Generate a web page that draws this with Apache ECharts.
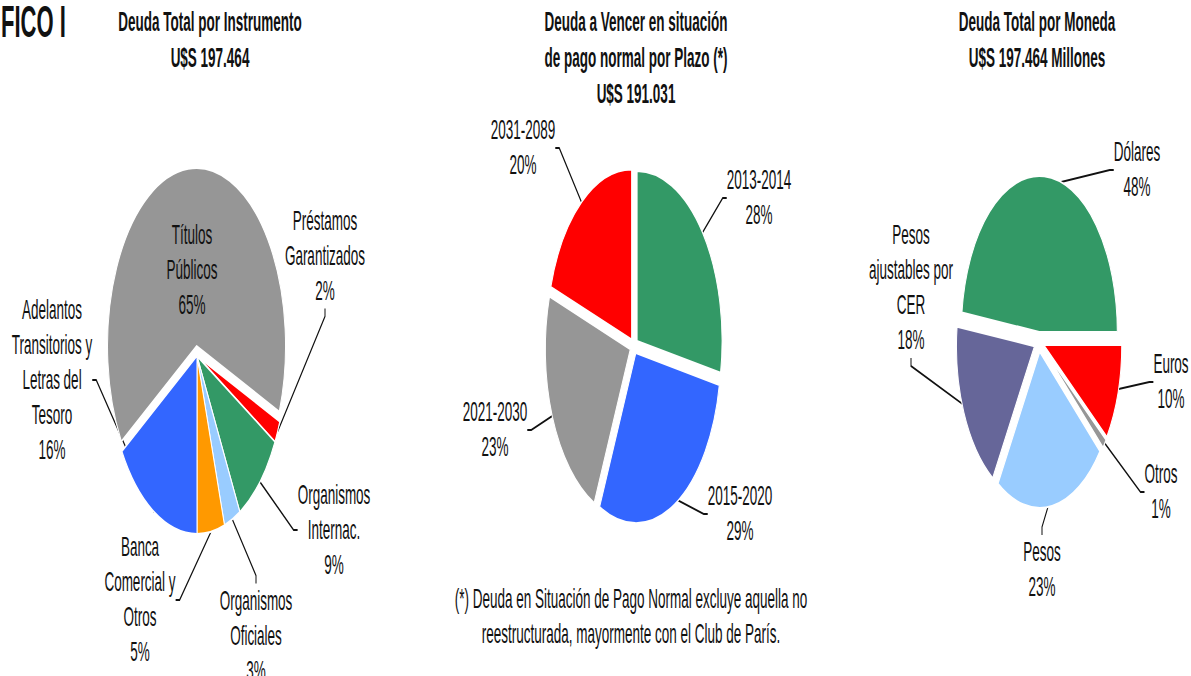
<!DOCTYPE html>
<html>
<head>
<meta charset="utf-8">
<script src="https://cdn.jsdelivr.net/npm/echarts@6/dist/echarts.min.js"></script>
<style>
html,body{margin:0;padding:0;background:#fff;width:1191px;height:676px;}
/* el grafico original esta estirado verticalmente x2 */
#main{width:1191px;height:338px;transform:scaleY(2);transform-origin:0 0;}
</style>
</head>
<body>
<div id="main"></div>
<script type="text/javascript">
	// Deuda Total por Instrumento (%)
	var instrNames = ['Títulos\nPúblicos', 'Préstamos\nGarantizados', 'Organismos\nInternac.', 'Organismos\nOficiales', 'Banca\nComercial y\nOtros', 'Adelantos\nTransitorios y\nLetras del\nTesoro'];
	var instrValues = [65, 2, 9, 3, 5, 16];

	// Deuda a Vencer por Plazo (%)
	var plazoNames = ['2013-2014', '2015-2020', '2021-2030', '2031-2089'];
	var plazoValues = [28, 29, 23, 20];

	// Deuda Total por Moneda (%)
	var monedaNames = ['Dólares', 'Euros', 'Otros', 'Pesos', 'Pesos\najustables por\nCER'];
	var monedaValues = [48, 10, 1, 23, 18];

	var instrColors = ['#969696', '#ff0000', '#339966', '#99ccff', '#ff9900', '#3366ff'];
	var plazoColors = ['#339966', '#3366ff', '#969696', '#ff0000'];
	var monedaColors = ['#339966', '#ff0000', '#969696', '#99ccff', '#666699'];

	// posicion de las etiquetas (centro), en coordenadas sin estirar
	var labelPos = [
		[[192, 135], [325, 128], [334, 265], [256, 318], [140, 300], [52, 190]],
		[[759, 99], [740, 257], [495, 215], [523, 74]],
		[[1137, 85], [1171, 191], [1161, 246], [1042, 285], [911, 144]]
	];

	var font = "'Liberation Sans', Arial, sans-serif";

	// porciones visibles (algunas separadas)
	function slices(names, values, colors, exploded, center, radius, startAngle, offset){
		return {
			type: 'pie',
			center: center,
			radius: radius,
			startAngle: startAngle,
			selectedMode: 'multiple',
			selectedOffset: offset,
			silent: true,
			emphasis: {disabled: true},
			select: {itemStyle: {borderColor: '#fff', borderWidth: 1}},
			itemStyle: {borderColor: '#fff', borderWidth: 1},
			label: {show: false},
			labelLine: {show: false},
			data: names.map(function(n, i){
				return {name: n, value: values[i], selected: exploded[i], itemStyle: {color: colors[i]}};
			})
		};
	}

	// etiquetas con sus lineas (serie transparente encima)
	function labels(idx, names, values, center, radius, startAngle, inside){
		return {
			type: 'pie',
			center: center,
			radius: radius,
			startAngle: startAngle,
			silent: true,
			avoidLabelOverlap: false,
			emphasis: {disabled: true},
			itemStyle: {color: 'rgba(0,0,0,0)'},
			label: {
				show: true,
				position: 'outside',
				formatter: '{b}\n{c}%',
				fontFamily: font,
				fontSize: 13.5,
				lineHeight: 17.5,
				color: '#111'
			},
			labelLine: {
				show: true,
				length: 8,
				length2: 4,
				lineStyle: {color: '#111', width: 1}
			},
			labelLayout: function(params){
				var p = labelPos[idx][params.dataIndex];
				return {x: p[0], y: p[1], align: 'center', verticalAlign: 'middle'};
			},
			data: names.map(function(n, i){
				var d = {name: n, value: values[i]};
				if(inside === i){ d.labelLine = {show: false}; }
				return d;
			})
		};
	}

	var titleStyle = {fontFamily: font, fontSize: 13.5, fontWeight: 'bold', lineHeight: 18, color: '#111'};

	var myChart = echarts.init(document.getElementById('main'), null, {renderer: 'svg'});
	var option = {
		backgroundColor: '#fff',
		animation: false,
		title: [
			{text: 'FICO I', left: 1, top: 0, padding: 0, textStyle: {fontFamily: font, fontSize: 22, fontWeight: 'bold', color: '#111'}},
			{text: 'Deuda Total por Instrumento\nU$S 197.464', left: 210, top: 2, padding: 0, textAlign: 'center', textStyle: titleStyle},
			{text: 'Deuda a Vencer en situación\nde pago normal por Plazo (*)\nU$S 191.031', left: 636, top: 2, padding: 0, textAlign: 'center', textStyle: titleStyle},
			{text: 'Deuda Total por Moneda\nU$S 197.464 Millones', left: 1037, top: 2, padding: 0, textAlign: 'center', textStyle: titleStyle},
			{text: '(*) Deuda en Situación de Pago Normal excluye aquella no\nreestructurada, mayormente con el Club de París.', left: 631, top: 291, padding: 0, textAlign: 'center',
				textStyle: {fontFamily: font, fontSize: 13.5, fontWeight: 'normal', lineHeight: 17.5, color: '#111'}}
		],
		series: [
			slices(instrNames, instrValues, instrColors, [true, false, false, false, false, false], [197, 178], 89, 212.4, 5),
			slices(plazoNames, plazoValues, plazoColors, [true, true, true, true], [634, 173], 85, 90, 4),
			slices(monedaNames, monedaValues, monedaColors, [true, true, true, true, true], [1039, 171], 78, 172.8, 5),
			labels(0, instrNames, instrValues, [197, 178], 89, 212.4, 0),
			labels(1, plazoNames, plazoValues, [634, 173], 85, 90, -1),
			labels(2, monedaNames, monedaValues, [1039, 171], 78, 172.8, -1)
		]
	};
	myChart.setOption(option);
</script>
</body>
</html>
